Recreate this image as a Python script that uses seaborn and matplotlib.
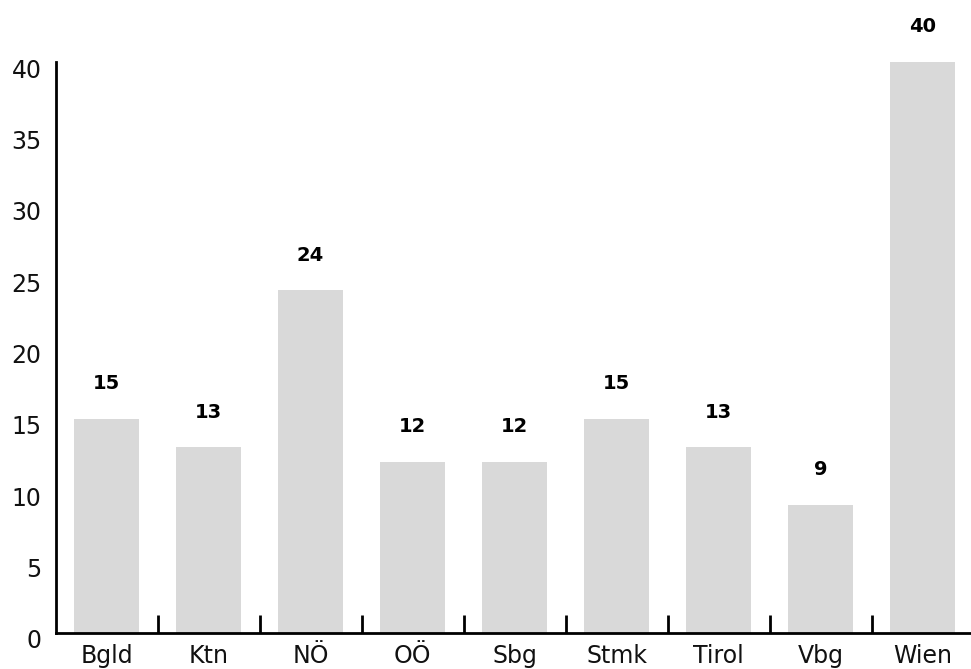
import matplotlib
matplotlib.use("Agg")
import matplotlib.pyplot as plt
import matplotlib.transforms as mtransforms
from matplotlib.ticker import FixedLocator
import seaborn as sns
import pandas as pd

categories = ["Bgld", "Ktn", "NÖ", "OÖ", "Sbg", "Stmk", "Tirol", "Vbg", "Wien"]
values = [15, 13, 24, 12, 12, 15, 13, 9, 40]
y_ticks = [0, 5, 10, 15, 20, 25, 30, 35, 40]

sns.set_theme(style="white")
plt.rcParams['font.family'] = ['DejaVu Sans']

df = pd.DataFrame({"cat": categories, "val": values})

W, H = 971, 669
fig = plt.figure(figsize=(W / 100, H / 100), dpi=100)
left, right_px = 55.5, 973.5
top_px, bot_px = 62, 633
ax = fig.add_axes([left / W, (H - bot_px) / H, (right_px - left) / W, (bot_px - top_px) / H])

sns.barplot(data=df, x="cat", y="val", color="#d9d9d9", width=0.64, saturation=1,
            ax=ax, edgecolor="none")

ax.set_xlim(-0.5, len(categories) - 0.5)
ax.set_ylim(0, 40)
ax.set_yticks(y_ticks)
ax.set_yticklabels([str(t) for t in y_ticks])
ax.set_xlabel("")
ax.set_ylabel("")

for s in ["top", "right"]:
    ax.spines[s].set_visible(False)
for s in ["left", "bottom"]:
    ax.spines[s].set_color("black")
    ax.spines[s].set_linewidth(2)

ax.tick_params(axis="y", left=True, length=0, pad=10, labelsize=17, labelcolor="#111111")
ax.tick_params(axis="x", which="major", bottom=True, length=0, pad=8, labelsize=17, labelcolor="#111111")
ax.xaxis.set_minor_locator(FixedLocator([i + 0.5 for i in range(len(categories) - 1)]))
ax.tick_params(axis="x", which="minor", bottom=True, direction="in", length=13, width=2, color="black")

offset = mtransforms.ScaledTranslation(0, -6 / 100, fig.dpi_scale_trans)
for lbl in ax.get_yticklabels():
    lbl.set_transform(lbl.get_transform() + offset)

for i, v in enumerate(values):
    ax.annotate(str(v), xy=(i, v), xytext=(0, 35), textcoords="offset pixels",
                ha="center", va="center", fontsize=14, fontweight="bold", color="black",
                annotation_clip=False)

ax.grid(False)
fig.savefig("out.png", dpi=100)
